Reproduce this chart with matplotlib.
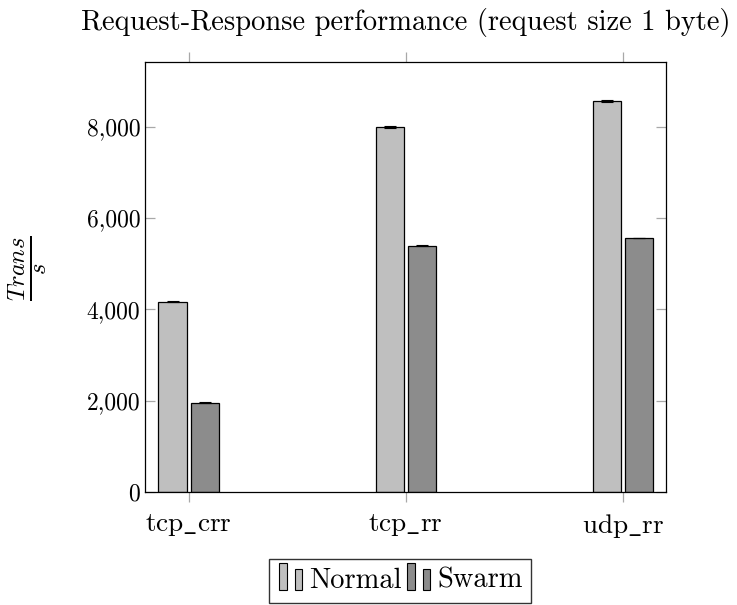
import numpy as np
import matplotlib
matplotlib.use("Agg")
import matplotlib.pyplot as plt
import matplotlib.patches as mpatches
from matplotlib.legend_handler import HandlerBase
from matplotlib.ticker import FuncFormatter

plt.rcParams["font.family"] = "serif"
plt.rcParams["font.serif"] = ["cmr10"]
plt.rcParams["mathtext.fontset"] = "cm"
plt.rcParams["axes.formatter.use_mathtext"] = True

# ── data ──────────────────────────────────────────────────────────────────────
categories = ["tcp_crr", "tcp_rr", "udp_rr"]
normal     = [4160, 7990, 8560]
swarm      = [1950, 5390, 5560]
normal_err = [12, 15, 12]
swarm_err  = [12, 10, 10]

NORMAL_COLOR = "#bfbfbf"
SWARM_COLOR  = "#8c8c8c"
TICK_COLOR   = "#a8a8a8"


class TwoBarHandler(HandlerBase):
    # pgfplots-style ybar legend image: two small bars
    def create_artists(self, legend, orig_handle, xd, yd, width, height, fontsize, trans):
        fc = orig_handle.get_facecolor()
        w = width * 0.26
        r1 = mpatches.Rectangle((width * 0.05, -yd - height * 0.15), w, height * 1.45,
                                facecolor=fc, edgecolor="black", lw=0.8, transform=trans)
        r2 = mpatches.Rectangle((width * 0.6, -yd - height * 0.15), w, height * 1.15,
                                facecolor=fc, edgecolor="black", lw=0.8, transform=trans)
        return [r1, r2]


def tex_label(s):
    # cmr10 has no underscore glyph, go through mathtext
    return "$\\mathrm{" + s.replace("_", "\\_") + "}$"


fig = plt.figure(figsize=(7.37, 6.05), dpi=100)
ax = fig.add_axes([0.197, 0.187, 0.707, 0.711])

x = np.arange(len(categories))
w = 0.13
off = 0.074
ax.bar(x - off, normal, w, color=NORMAL_COLOR, edgecolor="black", lw=0.9,
       yerr=normal_err, capsize=4, error_kw=dict(ecolor="black", lw=0.8, capthick=0.8))
ax.bar(x + off, swarm, w, color=SWARM_COLOR, edgecolor="black", lw=0.9,
       yerr=swarm_err, capsize=4, error_kw=dict(ecolor="black", lw=0.8, capthick=0.8))

ax.set_xlim(-0.2, 2.2)
ax.set_ylim(0, 9420)
ax.set_xticks(x)
ax.set_xticklabels([tex_label(c) for c in categories], fontsize=19.6)
ax.set_yticks([0, 2000, 4000, 6000, 8000])
ax.yaxis.set_major_formatter(FuncFormatter(lambda v, p: f"{int(v):,}"))
ax.tick_params(axis="y", labelsize=17, direction="in", left=True, right=True)
ax.tick_params(axis="x", direction="out", top=True, bottom=True, pad=7)
ax.tick_params(length=7.5, width=0.9, color=TICK_COLOR)
for s in ax.spines.values():
    s.set_linewidth(0.9)

ax.set_ylabel(r"$\frac{Trans}{s}$", fontsize=25)
ax.yaxis.set_label_coords(-0.183, 0.52)
ax.set_title("Request-Response performance (request size 1 byte)", fontsize=20.5, pad=23)

handles = [mpatches.Patch(facecolor=NORMAL_COLOR, label="Normal"),
           mpatches.Patch(facecolor=SWARM_COLOR, label="Swarm")]
fig.legend(handles=handles, loc="center", bbox_to_anchor=(0.543, 0.04), ncol=2,
           fontsize=20.5, frameon=True, fancybox=False, edgecolor="black",
           handlelength=1.0, handleheight=0.6, handletextpad=0.1, columnspacing=0.15,
           borderpad=0.3, borderaxespad=0,
           handler_map={mpatches.Patch: TwoBarHandler()})

fig.savefig("out.png", dpi=100)
